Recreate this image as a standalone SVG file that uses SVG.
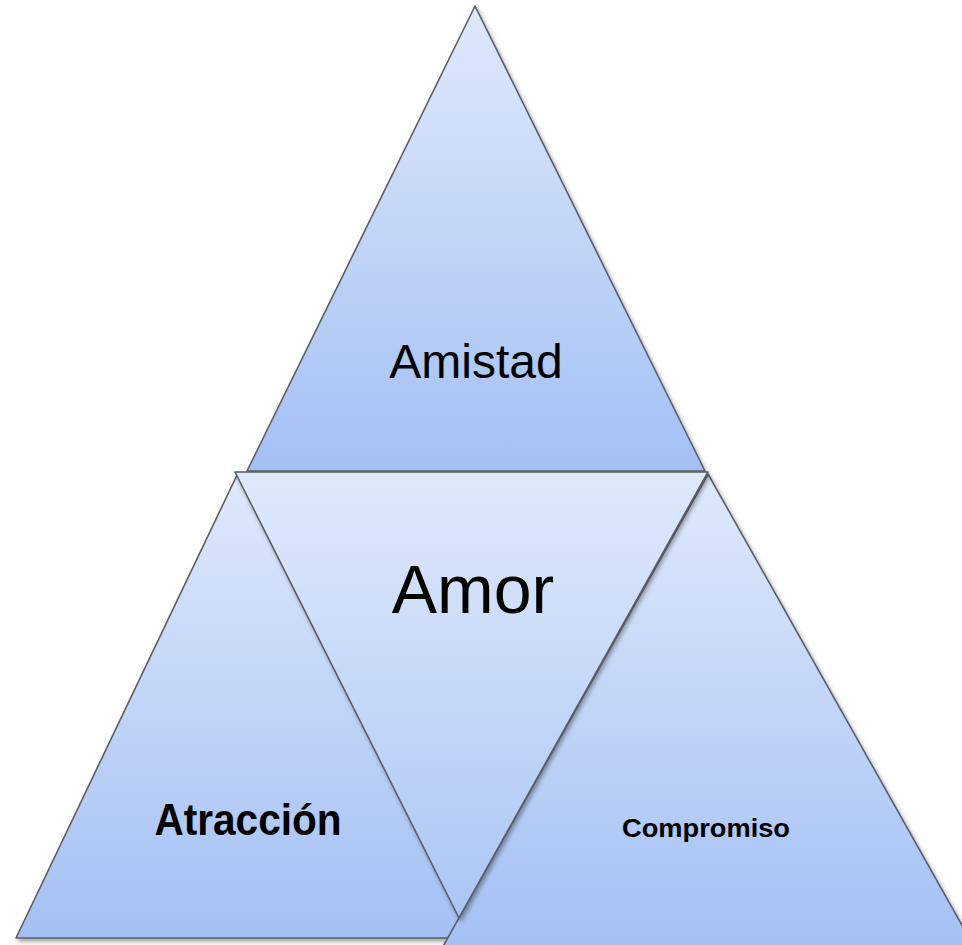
<svg xmlns="http://www.w3.org/2000/svg" width="962" height="945" viewBox="0 0 962 945">
<defs>
<linearGradient id="g" x1="0" y1="0" x2="0" y2="1">
<stop offset="0" stop-color="#dfe9fb"/>
<stop offset="1" stop-color="#a3c0f4"/>
</linearGradient>
<linearGradient id="gm" x1="0" y1="0" x2="0" y2="1">
<stop offset="0" stop-color="#dfe9fb"/>
<stop offset="1" stop-color="#abc6f5"/>
</linearGradient>
<filter id="sh" x="-10%" y="-10%" width="120%" height="120%">
<feDropShadow dx="2" dy="3" stdDeviation="2" flood-color="#000" flood-opacity="0.35"/>
</filter>
</defs>
<style>
.tri{fill:url(#g);stroke:#5a5e66;stroke-width:1.6;stroke-linejoin:round;filter:url(#sh)}
.mid{fill:url(#gm)}
.t{font-family:"Liberation Sans",Arial,sans-serif;fill:#000;text-anchor:middle}
.b{font-weight:bold}
</style>
<rect width="962" height="945" fill="#fff"/>
<g id="amistad">
<polygon class="tri" points="475,6 247,471 705,471"/>
<text class="t" x="476" y="378" font-size="48">Amistad</text>
</g>
<g id="atraccion">
<polygon class="tri" points="238,473 16,938 472,938"/>
<text class="t b" x="248" y="835" font-size="44" textLength="187" lengthAdjust="spacingAndGlyphs">Atracción</text>
</g>
<g id="compromiso">
<polygon class="tri" points="708,474 441,950 976,950"/>
<text class="t b" x="706" y="837" font-size="26" textLength="168" lengthAdjust="spacingAndGlyphs">Compromiso</text>
</g>
<g id="amor">
<polygon class="tri mid" points="235,472 708,472 459,918"/>
<text class="t" x="473" y="613" font-size="68">Amor</text>
</g>
</svg>
